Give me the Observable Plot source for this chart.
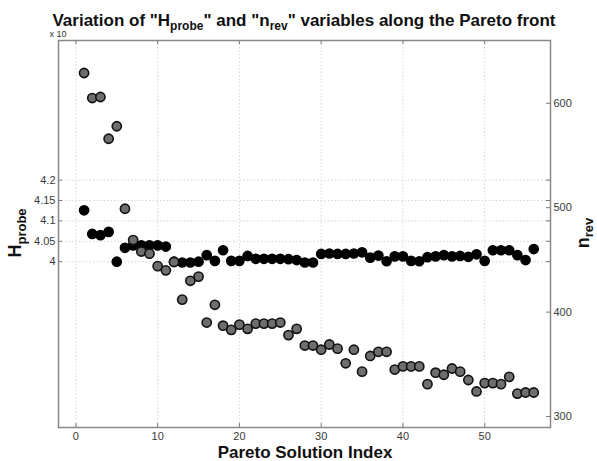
<!DOCTYPE html>
<html><head><meta charset="utf-8">
<script src="https://cdn.jsdelivr.net/npm/d3@7"></script>
<script src="https://cdn.jsdelivr.net/npm/@observablehq/plot@0.6"></script>
<style>body{margin:0;background:#fff;}</style>
</head><body><div id="chart"></div>
<script>
const solutionIndex = [1,2,3,4,5,6,7,8,9,10,11,12,13,14,15,16,17,18,19,20,21,22,23,24,25,26,27,28,
  29,30,31,32,33,34,35,36,37,38,39,40,41,42,43,44,45,46,47,48,49,50,51,52,53,54,55,56];
const hProbe = [4.126,4.068,4.065,4.073,4.000,4.034,4.040,4.040,4.040,4.040,4.037,4.000,3.998,3.998,
  4.000,4.016,4.002,4.028,4.002,4.002,4.014,4.007,4.007,4.007,4.007,4.006,4.004,3.998,3.998,4.019,
  4.020,4.019,4.019,4.020,4.023,4.010,4.015,4.001,4.013,4.013,4.002,4.001,4.011,4.013,4.016,4.013,
  4.014,4.012,4.018,4.002,4.028,4.028,4.028,4.016,4.004,4.031];
const nRev = [629,605,606,566,578,499,469,458,456,444,440,448,412,430,434,390,407,387,383,388,384,
  389,389,389,390,378,384,368,368,364,369,365,351,364,343,358,362,362,345,348,348,348,331,342,
  340,346,343,335,324,332,332,331,338,322,323,323];
const xTicks = [0,10,20,30,40,50];
const hTicks = [4, 4.05, 4.1, 4.15, 4.2];
const nTicks = [300, 400, 500, 600];

const W = 597, H = 461, mL = 58, mR = 47, mT = 40, mB = 34;
const hDomain = [3.5934, 4.5423], nDomain = [289.5, 660.1];
const nToH = d3.scaleLinear().domain(nDomain).range(hDomain);
const data = solutionIndex.map((i, k) => ({i, h: hProbe[k], n: nRev[k], nh: nToH(nRev[k])}));
const fw = W - mL - mR, fh = H - mT - mB;

const plot = Plot.plot({
  width: W, height: H, marginLeft: mL, marginRight: mR, marginTop: mT, marginBottom: mB,
  x: {domain: [-2.13, 58.05]},
  y: {domain: hDomain},
  style: {fontFamily: "'Liberation Sans', Arial, sans-serif", fontSize: "11px", color: "#3a3a3a", background: "#fff"},
  marks: [
    Plot.ruleX(xTicks, {stroke: "#d6d6d6", strokeDasharray: "1.5,2"}),
    Plot.ruleY(hTicks, {stroke: "#d6d6d6", strokeDasharray: "1.5,2"}),
    Plot.ruleX(xTicks, {stroke: "#777", insetTop: fh - 4}),
    Plot.ruleX(xTicks, {stroke: "#777", insetBottom: fh - 4}),
    Plot.ruleY(hTicks, {stroke: "#777", insetRight: fw - 4}),
    Plot.ruleY(hTicks, {stroke: "#777", insetLeft: fw - 4}),
    Plot.ruleY(nTicks.map(nToH), {stroke: "#777", insetLeft: fw - 4}),
    Plot.axisX(xTicks, {tickSize: 0, tickPadding: 5, label: null}),
    Plot.axisY(hTicks, {tickSize: 0, tickPadding: 3, label: null, tickFormat: d => d3.format("~g")(d)}),
    Plot.axisY(nTicks.map(nToH), {anchor: "right", tickSize: 0, tickPadding: 3, label: null,
      tickFormat: d => Math.round(nToH.invert(d))}),
    Plot.frame({stroke: "#888", strokeWidth: 1.5}),
    Plot.dot(data, {x: "i", y: "h", r: 4.6, fill: "#000", stroke: "#000"}),
    Plot.dot(data, {x: "i", y: "nh", r: 4.6, fill: "#6e6e6e", stroke: "#111", strokeWidth: 1.6})
  ]
});
document.getElementById("chart").appendChild(plot);

const svg = d3.select(plot);
const ff = "'Liberation Sans', Arial, sans-serif";
// title
const t = svg.append("text").attr("x", 304).attr("y", 26).attr("text-anchor", "middle")
  .attr("font-family", ff).attr("font-size", 17).attr("font-weight", "bold").attr("fill", "#111");
t.append("tspan").text('Variation of "H');
t.append("tspan").attr("dy", 4).attr("font-size", 12).text("probe");
t.append("tspan").attr("dy", -4).text('" and "n');
t.append("tspan").attr("dy", 4).attr("font-size", 12).text("rev");
t.append("tspan").attr("dy", -4).text('" variables along the Pareto front');
// x 10
svg.append("text").attr("x", 58).attr("y", 37).attr("font-family", ff).attr("font-size", 9)
  .attr("fill", "#333").text("x 10");
// x label
svg.append("text").attr("x", 305).attr("y", 458).attr("text-anchor", "middle")
  .attr("font-family", ff).attr("font-size", 17).attr("font-weight", "bold").attr("fill", "#111")
  .text("Pareto Solution Index");
// left y label
const yl = svg.append("text").attr("transform", "translate(21,233) rotate(-90)").attr("text-anchor", "middle")
  .attr("font-family", ff).attr("font-size", 18).attr("font-weight", "bold").attr("fill", "#111");
yl.append("tspan").text("H");
yl.append("tspan").attr("dy", 5).attr("font-size", 13).text("probe");
// right y label
const yr = svg.append("text").attr("transform", "translate(589,233) rotate(-90)").attr("text-anchor", "middle")
  .attr("font-family", ff).attr("font-size", 18).attr("font-weight", "bold").attr("fill", "#111");
yr.append("tspan").text("n");
yr.append("tspan").attr("dy", 4).attr("font-size", 13).text("rev");
</script>
</body></html>
